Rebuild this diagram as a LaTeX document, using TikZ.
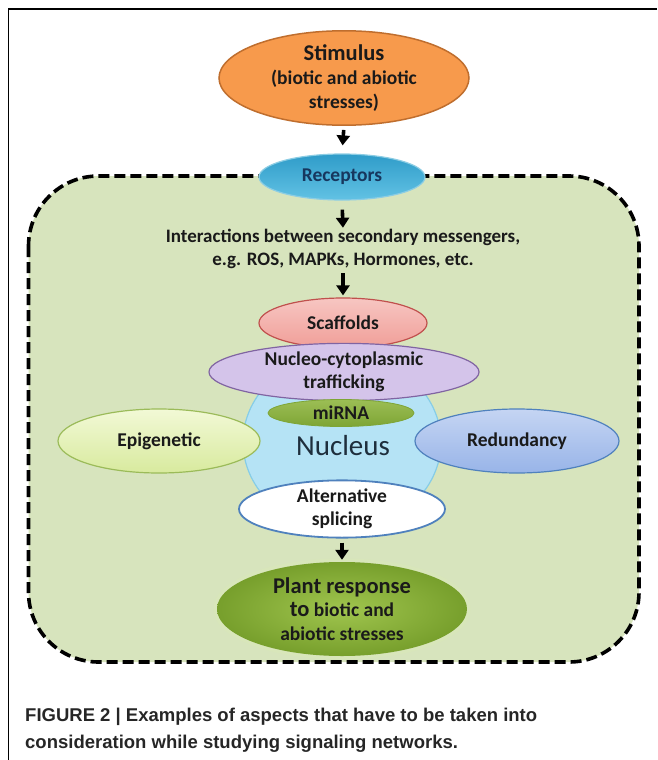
\documentclass[tikz,border=0pt]{standalone}
\usepackage{fontspec}
\setmainfont{Carlito}
\newfontfamily\capfont{Liberation Sans}
\usetikzlibrary{shapes.geometric,arrows.meta}
\definecolor{bggreen}{HTML}{D7E4BD}
\definecolor{stimfill}{HTML}{F79A4C}
\definecolor{stimline}{HTML}{BF6E2E}
\definecolor{rectop}{HTML}{2F9CC9}
\definecolor{recbot}{HTML}{62C2E4}
\definecolor{recline}{HTML}{8CCDE4}
\definecolor{rectext}{HTML}{17375E}
\definecolor{scaftop}{HTML}{F7C6C2}
\definecolor{scafbot}{HTML}{F09E98}
\definecolor{scafline}{HTML}{C0504D}
\definecolor{nucfill}{HTML}{D4C4EA}
\definecolor{nucline}{HTML}{8064A2}
\definecolor{nuclfill}{HTML}{B5E3F5}
\definecolor{nuclline}{HTML}{86CDE7}
\definecolor{nucltext}{HTML}{1E2E3C}
\definecolor{mirtop}{HTML}{9CBE55}
\definecolor{mirbot}{HTML}{7EA535}
\definecolor{epitop}{HTML}{F2F9D6}
\definecolor{epibot}{HTML}{D8EA9E}
\definecolor{epiline}{HTML}{9BBB59}
\definecolor{redtop}{HTML}{C5D5F3}
\definecolor{redbot}{HTML}{98B4E8}
\definecolor{redline}{HTML}{4F81BD}
\definecolor{plantin}{HTML}{A0C54E}
\definecolor{plantout}{HTML}{779F2C}
\definecolor{txt}{HTML}{1A1A1A}
\tikzset{
  oval/.style={ellipse, inner sep=0pt, align=center, text=txt,
    font=\bfseries\fontsize{19.5}{23.5}\selectfont},
  flow/.style={-{Triangle[length=10pt,width=13pt]}, line width=3.6pt, black},
  boxline/.style={line width=3.6pt, dash pattern=on 11pt off 5pt, black}
}
\begin{document}
\begin{tikzpicture}[x=1pt,y=-1pt]
\useasboundingbox (0,0) rectangle (657,760);
% frame
\draw[line width=1.2pt] (8.5,760) -- (8.5,9) -- (657,9);
% dashed cell
\draw[boxline, fill=bggreen, rounded corners=70pt] (28.5,176) rectangle (639,662);
% nodes
\node[oval, fill=stimfill, draw=stimline, line width=1.5pt,
  minimum width=250pt, minimum height=88pt] (stim) at (344,78)
  {{\fontsize{22.5}{25.5}\selectfont Stimulus}\\[1pt](biotic and abiotic\\stresses)};
\node[oval, top color=rectop, bottom color=recbot, draw=recline, line width=1.2pt,
  text=rectext, minimum width=166pt, minimum height=46pt] (rec) at (342,177) {Receptors};
\node[align=center, inner sep=0pt, text=txt, font=\bfseries\fontsize{19}{23.5}\selectfont]
  (inter) at (343,249) {Interactions between secondary messengers,\\e.g. ROS, MAPKs, Hormones, etc.};
\node[oval, top color=scaftop, bottom color=scafbot, draw=scafline, line width=1.2pt,
  minimum width=168pt, minimum height=50pt] (scaf) at (343,323) {Scaffolds};
\node[ellipse, fill=nuclfill, draw=nuclline, line width=1.2pt, inner sep=0pt,
  minimum width=198pt, minimum height=176pt] (nucleus) at (342,442) {};
\node[inner sep=0pt, text=nucltext, font=\fontsize{29}{32}\selectfont]
  (nuctext) at (343,446) {Nucleus};
\node[oval, fill=nucfill, draw=nucline, line width=1.2pt,
  minimum width=270pt, minimum height=50pt] (nucleo) at (344,372)
  {Nucleo-cytoplasmic\\trafficking};
\node[oval, top color=mirtop, bottom color=mirbot, draw=mirbot, line width=0.8pt,
  minimum width=146pt, minimum height=27pt] (mirna) at (341,413) {miRNA};
\node[oval, top color=epitop, bottom color=epibot, draw=epiline, line width=1.2pt,
  minimum width=202pt, minimum height=64pt] (epi) at (159,441) {Epigenetic};
\node[oval, top color=redtop, bottom color=redbot, draw=redline, line width=1.2pt,
  minimum width=204pt, minimum height=64pt] (red) at (517,441) {Redundancy};
\node[oval, fill=white, draw=redline, line width=1.8pt,
  minimum width=206pt, minimum height=53pt] (alt) at (342,509)
  {Alternative\\splicing};
\node[oval, inner color=plantin, outer color=plantout,
  preaction={draw=plantin!40!white, line width=7pt, opacity=0.6},
  minimum width=250pt, minimum height=94pt] (plant) at (342,609)
  {{\fontsize{22.5}{26}\selectfont Plant response}\\
   {\fontsize{22.5}{26}\selectfont to} biotic and\\abiotic stresses};
% connectors
\draw[flow, shorten <=4pt, shorten >=8pt] (stim.south) -- (rec.north);
\draw[flow, shorten <=9pt, shorten >=1pt] (rec.south) -- (inter.north);
\draw[flow, shorten <=4pt, shorten >=2pt] (inter.south) -- (scaf.north);
\draw[flow, shorten <=4pt, shorten >=2pt] (alt.south) -- (plant.north);
% caption
\node[anchor=base west, inner sep=0pt, font=\capfont\bfseries\fontsize{18.5}{22}\selectfont, text=black!85]
  (cap1) at (25,721) {FIGURE 2 | Examples of aspects that have to be taken into};
\node[anchor=base west, inner sep=0pt, font=\capfont\bfseries\fontsize{18.5}{22}\selectfont, text=black!85]
  (cap2) at (25,748) {consideration while studying signaling networks.};
\end{tikzpicture}
\end{document}
